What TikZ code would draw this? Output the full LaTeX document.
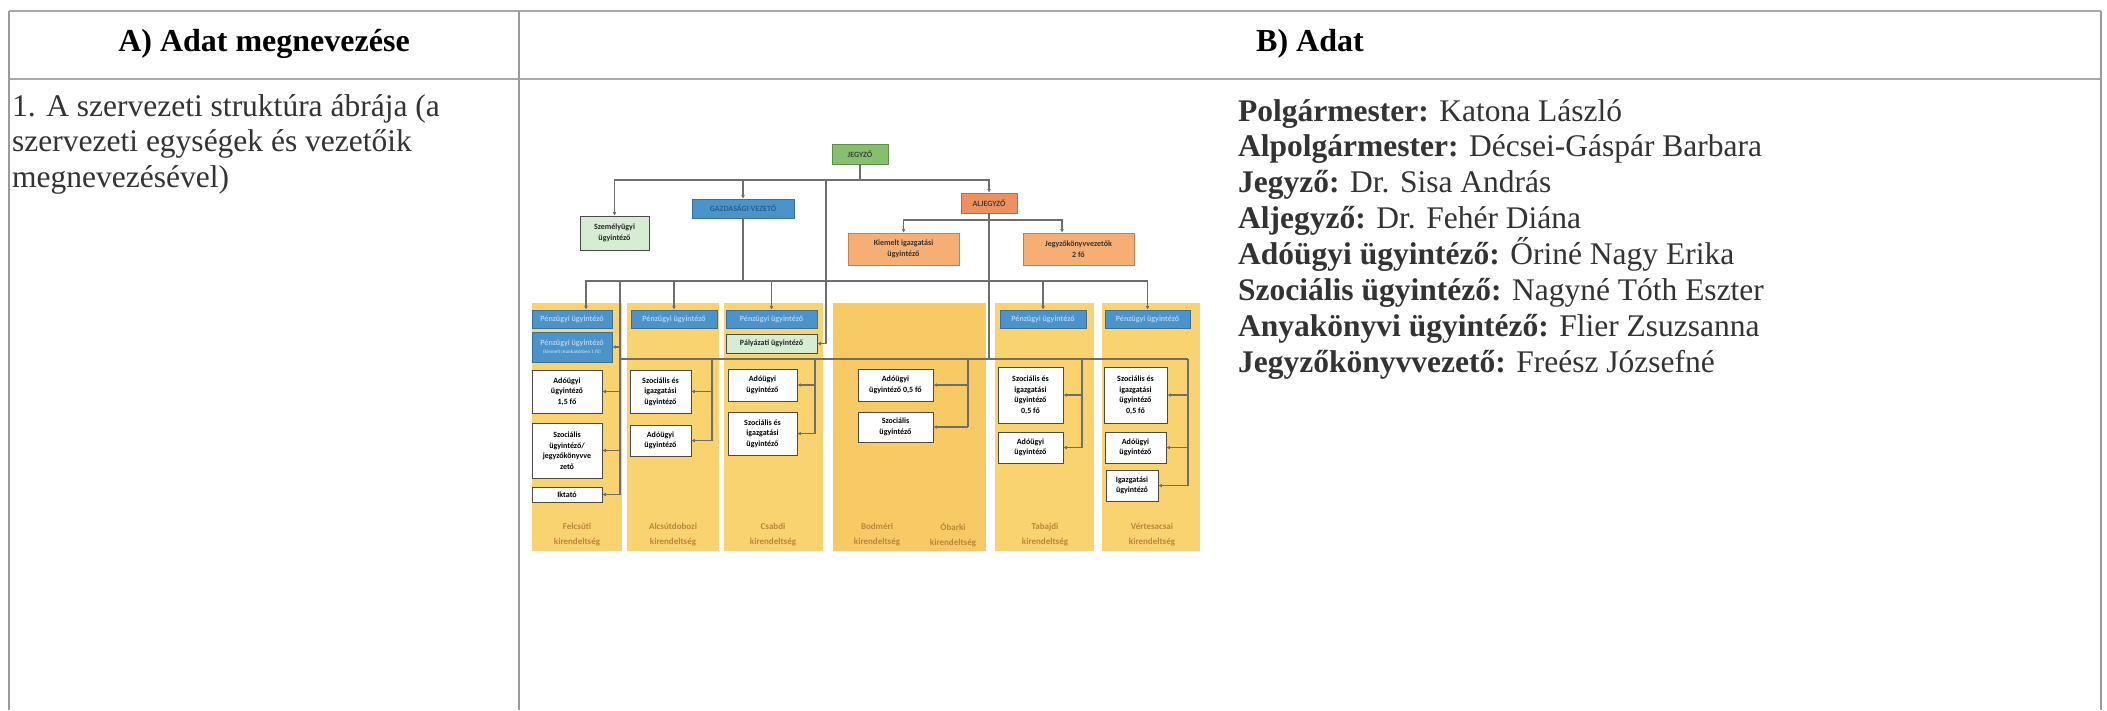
\documentclass[tikz,border=0pt]{standalone}
\usepackage{fontspec}
\setmainfont{Liberation Serif}
\newfontfamily\chartfont{Carlito}
\usetikzlibrary{arrows.meta}
\definecolor{rulec}{HTML}{A8A8A8}
\definecolor{vrulec}{HTML}{9C9C9C}
\definecolor{conn}{HTML}{6E6E6E}
\definecolor{panel}{HTML}{F9D36F}
\definecolor{panelB}{HTML}{F7CA66}
\definecolor{bluefill}{HTML}{4A94CB}
\definecolor{bluedraw}{HTML}{3A6F99}
\definecolor{bluetext}{HTML}{B3CFEA}
\definecolor{gvtext}{HTML}{2B5F8C}
\definecolor{greenfill}{HTML}{86C06C}
\definecolor{greendraw}{HTML}{5E8E4E}
\definecolor{palegreen}{HTML}{D6ECD3}
\definecolor{aljfill}{HTML}{EE915F}
\definecolor{aljdraw}{HTML}{B86C42}
\definecolor{orfill}{HTML}{F5AF74}
\definecolor{ordraw}{HTML}{C08050}
\definecolor{labeltext}{HTML}{BC853A}
\definecolor{boxdraw}{HTML}{4A4A4A}
\definecolor{bodytext}{HTML}{333333}
\tikzset{
  hd/.style={inner sep=0pt, font=\fontsize{32}{36}\selectfont\bfseries, text=black},
  bd/.style={inner sep=0pt, font=\fontsize{31.5}{36}\selectfont, text=bodytext},
  cb/.style={font=\chartfont\bfseries\fontsize{8}{10.5}\selectfont, inner sep=0pt, align=center, line width=0.9pt},
  wbox/.style={cb, draw=boxdraw, fill=white, text=black},
  bbox/.style={cb, draw=bluedraw, fill=bluefill, text=bluetext},
  gbox/.style={cb, draw=boxdraw, fill=palegreen, text=black!85},
  panelbox/.style={fill=panel, draw=none, inner sep=0pt},
  klabel/.style={font=\chartfont\bfseries\fontsize{9}{15}\selectfont, text=labeltext, align=center, inner sep=0pt},
  cline/.style={draw=conn, line width=1.1pt},
  carr/.style={cline, -{Triangle[length=3.5pt,width=3.2pt]}},
}
\begin{document}
\begin{tikzpicture}[x=1pt,y=-1pt]
\useasboundingbox (0,0) rectangle (2107,710);
\fill[white] (0,0) rectangle (2107,710);
% table rules
\draw[rulec, line width=2.5pt] (9,11) -- (2101,11);
\draw[rulec, line width=2.5pt] (9,79) -- (2101,79);
\draw[vrulec, line width=1.6pt] (9,11) -- (9,710);
\draw[vrulec, line width=1.6pt] (519,11) -- (519,710);
\draw[vrulec, line width=1.6pt] (2101,11) -- (2101,710);
% headers
\node[hd, anchor=base] (hA) at (264,51) {A) Adat megnevezése};
\node[hd, anchor=base] (hB) at (1310,51) {B) Adat};
% column A
\node[bd, anchor=base west] (a1) at (12,116) {1. A szervezeti struktúra ábrája (a};
\node[bd, anchor=base west] (a2) at (12,151.5) {szervezeti egységek és vezetőik};
\node[bd, anchor=base west] (a3) at (12,187) {megnevezésével)};
% column B text
\node[bd, anchor=base west] (r1) at (1238,121) {\textbf{Polgármester:} Katona László};
\node[bd, anchor=base west] (r2) at (1238,156.9) {\textbf{Alpolgármester:} Décsei-Gáspár Barbara};
\node[bd, anchor=base west] (r3) at (1238,192.8) {\textbf{Jegyző:} Dr. Sisa András};
\node[bd, anchor=base west] (r4) at (1238,228.7) {\textbf{Aljegyző:} Dr. Fehér Diána};
\node[bd, anchor=base west] (r5) at (1238,264.6) {\textbf{Adóügyi ügyintéző:} Őriné Nagy Erika};
\node[bd, anchor=base west] (r6) at (1238,300.5) {\textbf{Szociális ügyintéző:} Nagyné Tóth Eszter};
\node[bd, anchor=base west] (r7) at (1238,336.4) {\textbf{Anyakönyvi ügyintéző:} Flier Zsuzsanna};
\node[bd, anchor=base west] (r8) at (1238,372.3) {\textbf{Jegyzőkönyvvezető:} Freész Józsefné};
% ---------- org chart ----------
% panels
\node[panelbox, minimum width=90pt, minimum height=248pt] (p1) at (577,427) {};
\node[panelbox, minimum width=92pt, minimum height=248pt] (p2) at (673,427) {};
\node[panelbox, minimum width=99pt, minimum height=248pt] (p3) at (773.5,427) {};
\node[panelbox, fill=panelB, minimum width=153pt, minimum height=248pt] (p4) at (909.5,427) {};
\node[panelbox, minimum width=99pt, minimum height=248pt] (p5) at (1044.5,427) {};
\node[panelbox, minimum width=98pt, minimum height=248pt] (p6) at (1151,427) {};
% labels
\node[klabel] (lF) at (577,534.5) {Felcsúti\\kirendeltség};
\node[klabel] (lA) at (673,534.5) {Alcsútdobozi\\kirendeltség};
\node[klabel] (lC) at (773,534.5) {Csabdi\\kirendeltség};
\node[klabel] (lB) at (877,534.5) {Bodméri\\kirendeltség};
\node[klabel] (lO) at (953,534.5) {Óbarki\\kirendeltség};
\node[klabel] (lT) at (1045,534.5) {Tabajdi\\kirendeltség};
\node[klabel] (lV) at (1152,534.5) {Vértesacsai\\kirendeltség};
% top level
\node[cb, draw=greendraw, fill=greenfill, text=black!75, minimum width=56pt, minimum height=20pt] (jegyzo) at (860,154) {JEGYZŐ};
\node[gbox, minimum width=69pt, minimum height=34pt] (szemely) at (614.5,233) {Személyügyi\\ügyintéző};
\node[cb, draw=bluedraw, fill=bluefill, text=gvtext, minimum width=102pt, minimum height=19pt] (gazd) at (743,208.5) {GAZDASÁGI VEZETŐ};
\node[cb, draw=aljdraw, fill=aljfill, text=black!75, minimum width=56pt, minimum height=20pt] (alj) at (989,203) {ALJEGYZŐ};
\node[cb, draw=ordraw, fill=orfill, text=black!80, minimum width=111pt, minimum height=32pt] (kiemelt) at (903.5,249) {Kiemelt igazgatási\\ügyintéző};
\node[cb, draw=ordraw, fill=orfill, text=black!80, minimum width=111pt, minimum height=32pt] (jkv) at (1078.5,249) {Jegyzőkönyvvezetők\\2 fő};
% blue boxes
\node[bbox, minimum width=80pt, minimum height=18pt] (b1) at (572,319) {Pénzügyi ügyintéző};
\node[bbox, minimum width=80pt, minimum height=30pt] (b1b) at (572,347) {Pénzügyi ügyintéző\\[-3pt]{\fontsize{5}{6}\selectfont (kiemelt munkakörben 1 fő)}};
\node[bbox, minimum width=86pt, minimum height=18pt] (b2) at (674,319) {Pénzügyi ügyintéző};
\node[bbox, minimum width=91pt, minimum height=18pt] (b3) at (771.5,319) {Pénzügyi ügyintéző};
\node[gbox, minimum width=91pt, minimum height=19pt] (pal) at (771.5,343.5) {Pályázati ügyintéző};
\node[bbox, minimum width=86pt, minimum height=18pt] (b5) at (1043,319) {Pénzügyi ügyintéző};
\node[bbox, minimum width=85pt, minimum height=18pt] (b6) at (1147.5,319) {Pénzügyi ügyintéző};
% white boxes
\node[wbox, minimum width=70pt, minimum height=43pt] (fA) at (567,391.5) {Adóügyi\\ügyintéző\\1,5 fő};
\node[wbox, minimum width=70pt, minimum height=55pt] (fS) at (567,450.5) {Szociális\\ügyintéző/\\jegyzőkönyvve\\zető};
\node[wbox, minimum width=70pt, minimum height=15pt] (fI) at (567,494.5) {Iktató};
\node[wbox, minimum width=61pt, minimum height=43pt] (aS) at (660.5,391.5) {Szociális és\\igazgatási\\ügyintéző};
\node[wbox, minimum width=61pt, minimum height=31pt] (aA) at (660.5,440.5) {Adóügyi\\ügyintéző};
\node[wbox, minimum width=69pt, minimum height=32pt] (cA) at (762.5,385) {Adóügyi\\ügyintéző};
\node[wbox, minimum width=69pt, minimum height=43pt] (cS) at (762.5,433.5) {Szociális és\\igazgatási\\ügyintéző};
\node[wbox, minimum width=75pt, minimum height=32pt] (bA) at (895.5,385) {Adóügyi\\ügyintéző 0,5 fő};
\node[wbox, minimum width=75pt, minimum height=30pt] (bS) at (895.5,427) {Szociális\\ügyintéző};
\node[wbox, minimum width=65pt, minimum height=56pt] (tS) at (1030.5,395) {Szociális és\\igazgatási\\ügyintéző\\0,5 fő};
\node[wbox, minimum width=65pt, minimum height=31pt] (tA) at (1030.5,447.5) {Adóügyi\\ügyintéző};
\node[wbox, minimum width=63pt, minimum height=56pt] (vS) at (1135.5,395) {Szociális és\\igazgatási\\ügyintéző\\0,5 fő};
\node[wbox, minimum width=61pt, minimum height=31pt] (vA) at (1135.5,447.5) {Adóügyi\\ügyintéző};
\node[wbox, minimum width=52pt, minimum height=31pt] (vI) at (1132,485.5) {Igazgatási\\ügyintéző};
% bus coordinates
\coordinate (busJ) at (0,180);
\coordinate (busA) at (0,220);
\coordinate (busG) at (0,281);
\coordinate (busW) at (0,359);
\coordinate (vP) at (826,180);
\coordinate (vF) at (620,281);
\coordinate (vAl) at (712,359);
\coordinate (vC) at (815,359);
\coordinate (vB) at (968,359);
\coordinate (vT) at (1082,359);
\coordinate (vV) at (1188,359);
% JEGYZŐ connectors
\draw[cline] (jegyzo.south) -- (jegyzo.south |- busJ);
\draw[carr] (jegyzo.south |- busJ) -| (szemely.north);
\draw[carr] (jegyzo.south |- busJ) -| (gazd.north);
\draw[carr] (jegyzo.south |- busJ) -| (alj.north);
\draw[carr] (vP) |- (pal.east);
% ALJEGYZŐ connectors
\draw[cline] (alj.south) -- (alj.south |- busA);
\draw[carr] (alj.south |- busA) -| (kiemelt.north);
\draw[carr] (alj.south |- busA) -| ([xshift=-16.5pt]jkv.north);
\draw[cline] (alj.south |- busA) -- (alj.south |- busW);
\draw[cline] (vF |- busW) -- (vV);
% GAZDASÁGI connectors
\draw[cline] (gazd.south) -- (gazd.south |- busG);
\draw[carr] (gazd.south |- busG) -| ([xshift=14pt]b1.north);
\draw[carr] (gazd.south |- busG) -| (b2.north);
\draw[carr] (gazd.south |- busG) -| (b3.north);
\draw[carr] (gazd.south |- busG) -| (b5.north);
\draw[carr] (gazd.south |- busG) -| (b6.north);
% Felcsút
\draw[cline] (vF) -- (vF |- fI.east);
\draw[carr] (vF |- b1b.east) -- (b1b.east);
\draw[carr] (vF |- fA.east) -- (fA.east);
\draw[carr] (vF |- fS.east) -- (fS.east);
\draw[carr] (vF |- fI.east) -- (fI.east);
% Alcsútdoboz
\draw[cline] (vAl) -- (vAl |- aA.east);
\draw[carr] (vAl |- aS.east) -- (aS.east);
\draw[carr] (vAl |- aA.east) -- (aA.east);
% Csabdi
\draw[cline] (vC) -- (vC |- cS.east);
\draw[carr] (vC |- cA.east) -- (cA.east);
\draw[carr] (vC |- cS.east) -- (cS.east);
% Bodmér
\draw[cline] (vB) -- (vB |- bS.east);
\draw[carr] (vB |- bA.east) -- (bA.east);
\draw[carr] (vB |- bS.east) -- (bS.east);
% Tabajd
\draw[cline] (vT) -- (vT |- tA.east);
\draw[carr] (vT |- tS.east) -- (tS.east);
\draw[carr] (vT |- tA.east) -- (tA.east);
% Vértesacsa
\draw[cline] (vV) -- (vV |- vI.east);
\draw[carr] (vV |- vS.east) -- (vS.east);
\draw[carr] (vV |- vA.east) -- (vA.east);
\draw[carr] (vV |- vI.east) -- (vI.east);
\end{tikzpicture}
\end{document}
